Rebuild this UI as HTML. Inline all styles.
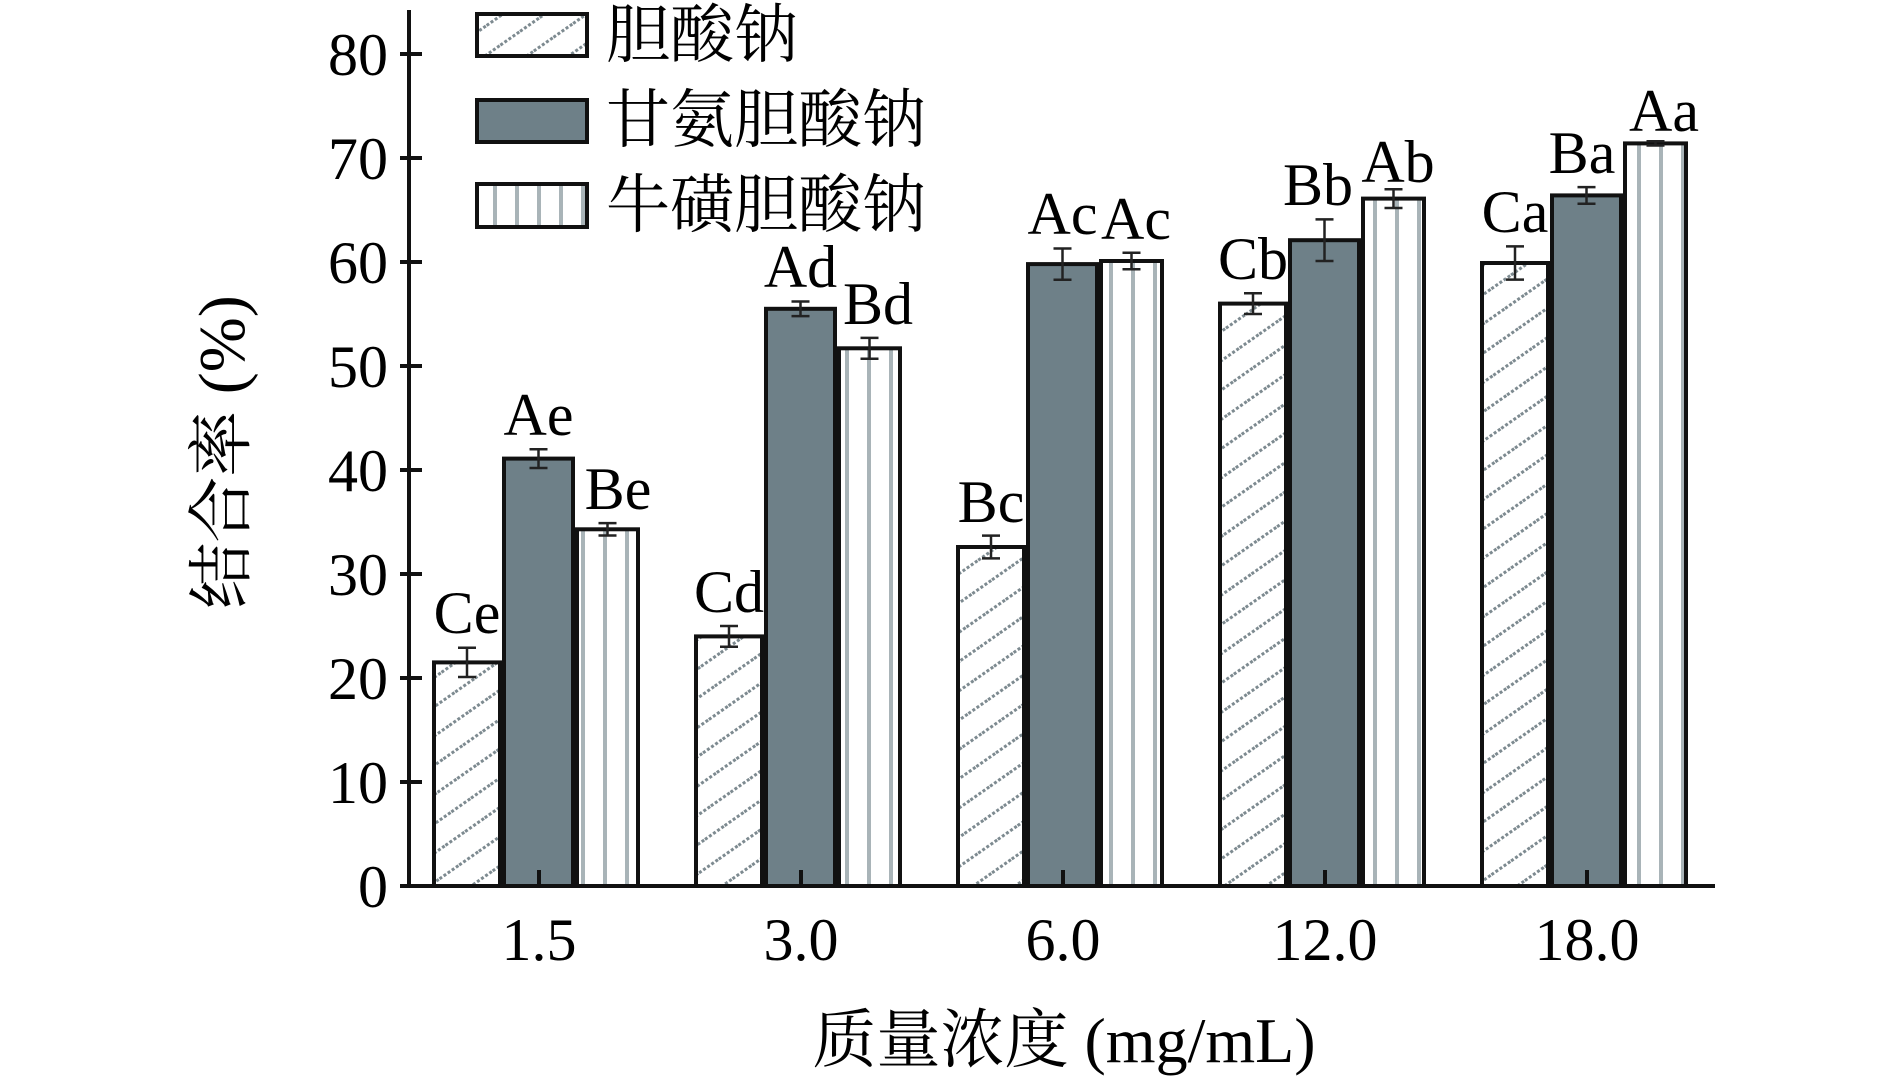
<!DOCTYPE html>
<html><head><meta charset="utf-8"><style>
html,body{margin:0;padding:0;background:#fff;}
svg{display:block;}
text{font-family:"Liberation Serif","Noto Serif CJK SC",serif;fill:#000;}
.cjk{font-family:"Noto Serif CJK SC","Liberation Serif",serif;}
</style></head><body>
<svg width="1890" height="1076" viewBox="0 0 1890 1076" xmlns="http://www.w3.org/2000/svg">
<defs>
<pattern id="hatch" patternUnits="userSpaceOnUse" width="24" height="24" patternTransform="rotate(-35)">
<rect width="24" height="24" fill="#fff"/>
<line x1="0" y1="12" x2="24" y2="12" stroke="#7d8a90" stroke-width="3" stroke-dasharray="3 2"/>
</pattern>
<pattern id="vert" patternUnits="userSpaceOnUse" width="22" height="10">
<rect width="22" height="10" fill="#fff"/>
<rect x="9" y="0" width="4" height="10" fill="#a9b4b8"/>
</pattern>
</defs>

<!-- legend -->
<rect x="477" y="14" width="110" height="42" fill="url(#hatch)" stroke="#111" stroke-width="4"/>
<rect x="477" y="100" width="110" height="42" fill="#6e8088" stroke="#111" stroke-width="4"/>
<rect x="477" y="184" width="110" height="43" fill="url(#vert)" stroke="#111" stroke-width="4"/>
<text class="cjk" x="606" y="57" font-size="64">胆酸钠</text>
<text class="cjk" x="606" y="142" font-size="64">甘氨胆酸钠</text>
<text class="cjk" x="606" y="227" font-size="64">牛磺胆酸钠</text>

<!-- bars -->
<g stroke="#111" stroke-width="4">
<rect x="434" y="662.4" width="66" height="223.6" fill="url(#hatch)"/>
<rect x="504" y="458.6" width="69" height="427.4" fill="#6e8088"/>
<rect x="577" y="529.3" width="61" height="356.7" fill="url(#vert)"/>
<rect x="696" y="636.4" width="66" height="249.6" fill="url(#hatch)"/>
<rect x="766" y="308.8" width="69" height="577.2" fill="#6e8088"/>
<rect x="839" y="348.3" width="61" height="537.7" fill="url(#vert)"/>
<rect x="958" y="547" width="66" height="339" fill="url(#hatch)"/>
<rect x="1028" y="264.1" width="69" height="621.9" fill="#6e8088"/>
<rect x="1101" y="261" width="61" height="625" fill="url(#vert)"/>
<rect x="1220" y="303.6" width="66" height="582.4" fill="url(#hatch)"/>
<rect x="1290" y="240.2" width="69" height="645.8" fill="#6e8088"/>
<rect x="1363" y="198.6" width="61" height="687.4" fill="url(#vert)"/>
<rect x="1482" y="263" width="66" height="623" fill="url(#hatch)"/>
<rect x="1552" y="195.4" width="69" height="690.6" fill="#6e8088"/>
<rect x="1625" y="143.4" width="61" height="742.6" fill="url(#vert)"/>
</g>
<!-- error bars -->
<g stroke="#222" stroke-width="2.5" fill="none">
<path d="M458 647.8H476M467 647.8V677M458 677H476"/>
<path d="M529.5 449.2H547.5M538.5 449.2V468M529.5 468H547.5"/>
<path d="M598.5 523.1H616.5M607.5 523.1V535.5M598.5 535.5H616.5"/>
<path d="M720 626H738M729 626V646.8M720 646.8H738"/>
<path d="M791.5 301.5H809.5M800.5 301.5V316.1M791.5 316.1H809.5"/>
<path d="M860.5 337.9H878.5M869.5 337.9V358.7M860.5 358.7H878.5"/>
<path d="M982 535.6H1000M991 535.6V558.4M982 558.4H1000"/>
<path d="M1053.5 248.5H1071.5M1062.5 248.5V279.7M1053.5 279.7H1071.5"/>
<path d="M1122.5 252.7H1140.5M1131.5 252.7V269.3M1122.5 269.3H1140.5"/>
<path d="M1244 293.2H1262M1253 293.2V314M1244 314H1262"/>
<path d="M1315.5 219.4H1333.5M1324.5 219.4V261M1315.5 261H1333.5"/>
<path d="M1384.5 189.2H1402.5M1393.5 189.2V208M1384.5 208H1402.5"/>
<path d="M1506 246.4H1524M1515 246.4V279.6M1506 279.6H1524"/>
<path d="M1577.5 187.1H1595.5M1586.5 187.1V203.7M1577.5 203.7H1595.5"/>
<path d="M1646.5 141.3H1664.5M1655.5 141.3V145.5M1646.5 145.5H1664.5"/>
</g>
<!-- bar labels -->
<g font-size="60" text-anchor="middle">
<text x="467" y="633">Ce</text>
<text x="538.5" y="435">Ae</text>
<text x="618" y="509">Be</text>
<text x="729" y="612">Cd</text>
<text x="800.5" y="287">Ad</text>
<text x="878" y="324">Bd</text>
<text x="991" y="522">Bc</text>
<text x="1062.5" y="234">Ac</text>
<text x="1136" y="239">Ac</text>
<text x="1253" y="279">Cb</text>
<text x="1318" y="205">Bb</text>
<text x="1398" y="182">Ab</text>
<text x="1515" y="232">Ca</text>
<text x="1582" y="173">Ba</text>
<text x="1664" y="131">Aa</text>
</g>

<!-- axes -->
<line x1="409" y1="10" x2="409" y2="888" stroke="#111" stroke-width="4"/>
<line x1="407" y1="886" x2="1715" y2="886" stroke="#111" stroke-width="4"/>
<g stroke="#111" stroke-width="4">
<line x1="400" y1="886" x2="422" y2="886"/>
<line x1="400" y1="782" x2="422" y2="782"/>
<line x1="400" y1="678" x2="422" y2="678"/>
<line x1="400" y1="574" x2="422" y2="574"/>
<line x1="400" y1="470" x2="422" y2="470"/>
<line x1="400" y1="366" x2="422" y2="366"/>
<line x1="400" y1="262" x2="422" y2="262"/>
<line x1="400" y1="158" x2="422" y2="158"/>
<line x1="400" y1="54" x2="422" y2="54"/>
<line x1="539" y1="886" x2="539" y2="870"/>
<line x1="801" y1="886" x2="801" y2="870"/>
<line x1="1063" y1="886" x2="1063" y2="870"/>
<line x1="1325" y1="886" x2="1325" y2="870"/>
<line x1="1587" y1="886" x2="1587" y2="870"/>
</g>
<g font-size="60" text-anchor="end">
<text x="388" y="907">0</text>
<text x="388" y="803">10</text>
<text x="388" y="699">20</text>
<text x="388" y="595">30</text>
<text x="388" y="491">40</text>
<text x="388" y="387">50</text>
<text x="388" y="283">60</text>
<text x="388" y="179">70</text>
<text x="388" y="75">80</text>
</g>
<g font-size="60" text-anchor="middle">
<text x="539" y="960">1.5</text>
<text x="801" y="960">3.0</text>
<text x="1063" y="960">6.0</text>
<text x="1325" y="960">12.0</text>
<text x="1587" y="960">18.0</text>
</g>
<text x="1064" y="1062" font-size="64" text-anchor="middle"><tspan class="cjk">质量浓度</tspan> (mg/mL)</text>
<text transform="translate(244,452) rotate(-90)" font-size="66" text-anchor="middle"><tspan class="cjk">结合率</tspan> (%)</text>
</svg>
</body></html>
